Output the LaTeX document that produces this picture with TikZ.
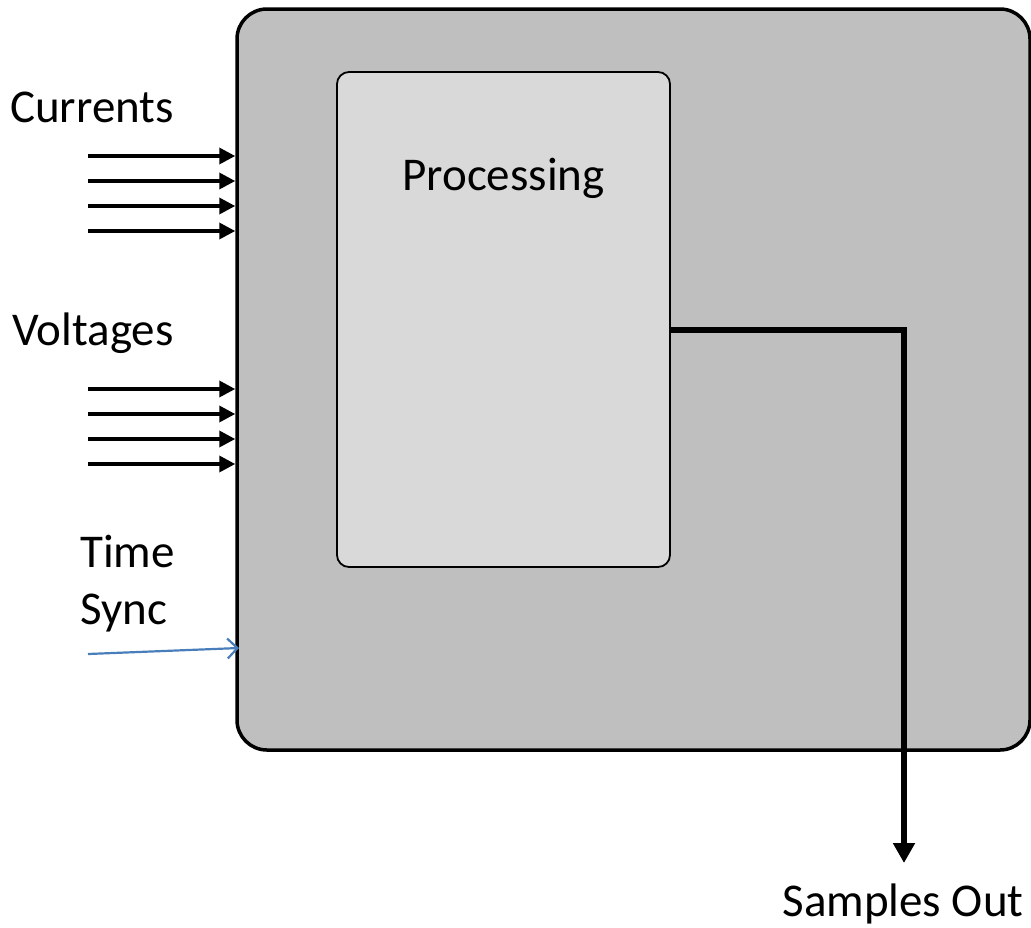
\documentclass[tikz,border=0pt]{standalone}
\usepackage{fontspec}
\setmainfont{Carlito}
\usetikzlibrary{arrows.meta}
\begin{document}
\begin{tikzpicture}[x=1pt,y=-1pt,
  lbl/.style={font=\fontsize{47}{56}\selectfont, inner sep=0pt},
  inarrow/.style={line width=3.5pt, -{Triangle[length=16pt,width=16pt]}},
  outarrow/.style={line width=6pt, -{Triangle[length=20pt,width=21pt]}},
  syncarrow/.style={line width=2.2pt, draw={rgb,255:red,74;green,126;blue,187}, -{Straight Barb[length=10pt,width=20pt,line width=2.2pt]}}
]
\useasboundingbox (0,0) rectangle (1031,927);
\node[draw, line width=3.5pt, fill={rgb,255:red,191;green,191;blue,191}, rounded corners=30pt, minimum width=793pt, minimum height=741pt, inner sep=0pt] (outer) at (633.5,379.5) {};
\node[draw, line width=1.8pt, fill={rgb,255:red,217;green,217;blue,217}, rounded corners=12pt, minimum width=333pt, minimum height=495pt, inner sep=0pt] (proc) at (503.5,319.5) {};
\node[lbl, anchor=base] (ptext) at (503.5,190) {Processing};
\node[lbl, anchor=base west] (cur) at (10,122) {Currents};
\node[lbl, anchor=base west] (vol) at (12,345) {Voltages};
\node[lbl, anchor=base west] (time) at (80,567) {Time};
\node[lbl, anchor=base west] (sync) at (80,624) {Sync};
\node[lbl, anchor=base] (samp) at (903,916) {Samples Out};
\foreach \y [count=\i] in {156,181,206,231} {
  \coordinate (cs\i) at (88,\y);
  \coordinate (ce\i) at (outer.west |- cs\i);
  \draw[inarrow] (cs\i) -- (ce\i);
}
\foreach \y [count=\i] in {389,414,439,464} {
  \coordinate (vs\i) at (88,\y);
  \coordinate (ve\i) at (outer.west |- vs\i);
  \draw[inarrow] (vs\i) -- (ve\i);
}
\coordinate (ts) at (88,654);
\coordinate (te) at (239,648);
\draw[syncarrow] (ts) -- (te);
\coordinate (bend) at (904,330);
\coordinate (oend) at (904,863);
\draw[outarrow] (proc.east |- bend) -- (bend) -- (oend);
\end{tikzpicture}
\end{document}
